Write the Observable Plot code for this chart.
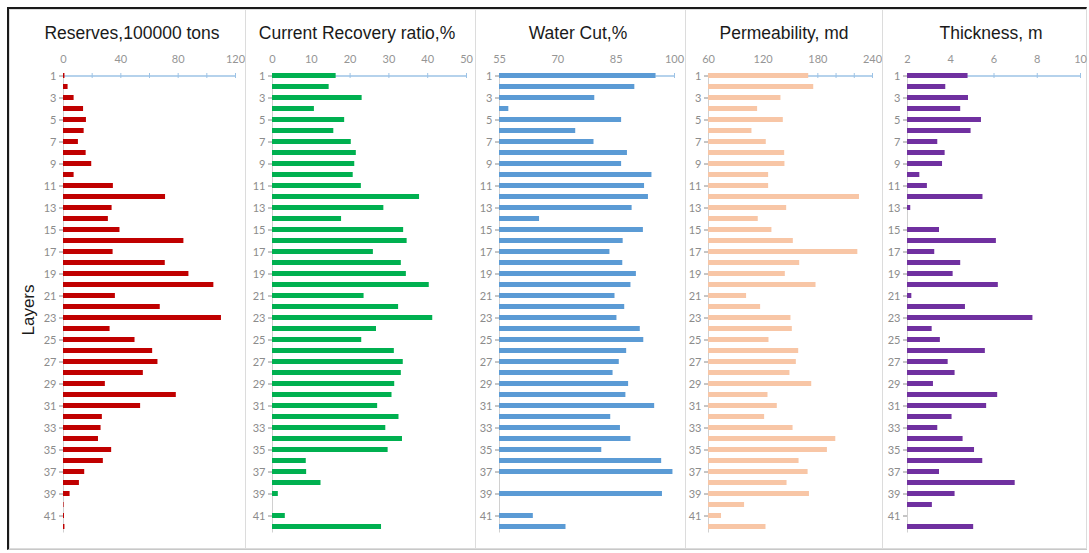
<!DOCTYPE html>
<html><head><meta charset="utf-8">
<script src="https://cdn.jsdelivr.net/npm/d3@7"></script>
<script src="https://cdn.jsdelivr.net/npm/@observablehq/plot@0.6"></script>
<style>
html,body{margin:0;padding:0;background:#fff;}
#wrap{position:relative;width:1089px;height:553px;overflow:hidden;background:#fff;font-family:"Liberation Sans",Arial,sans-serif;}
.outer{position:absolute;left:7px;top:7px;width:1080px;height:543px;box-sizing:border-box;border-top:2px solid #1a1a1a;border-left:2px solid #1a1a1a;border-right:1px solid #c8c8c8;border-bottom:1px solid #c8c8c8;}
.panel{position:absolute;top:9px;height:540px;border:1px solid #dcdcdc;box-sizing:border-box;}
.title{position:absolute;top:24px;line-height:18px;font-size:17.5px;color:#1a1a1a;white-space:nowrap;transform:translateX(-50%);}
.ylab{position:absolute;left:29px;top:310px;font-size:17px;color:#1a1a1a;white-space:nowrap;transform:translate(-50%,-50%) rotate(-90deg);}
#wrap svg{position:absolute;top:0;}
</style></head><body><div id="wrap"><div class="outer"></div></div>
<script>
const layers = [1,2,3,4,5,6,7,8,9,10,11,12,13,14,15,16,17,18,19,20,21,22,23,24,25,26,27,28,29,30,31,32,33,34,35,36,37,38,39,40,41,42];
const layerLabels = [1,3,5,7,9,11,13,15,17,19,21,23,25,27,29,31,33,35,37,39,41];

const reserves = [1, 3.2, 7.4, 14, 16, 14.4, 10.4, 15.8, 19.7, 7.4, 34.8, 71.2, 33.9, 31.3, 39.4, 84, 34.6, 71, 87.5, 104.9, 36.2, 67.5, 110.2, 32.5, 49.9, 62.2, 65.9, 55.7, 29.2, 78.7, 53.8, 27.1, 26.2, 24.4, 33.6, 27.8, 14.8, 11.1, 4.6, 0.4, 0.7, 1];
const recovery = [16.4, 14.6, 23.1, 10.8, 18.6, 15.8, 20.3, 21.6, 21.2, 20.8, 22.9, 37.9, 28.7, 17.8, 33.8, 34.7, 26, 33.2, 34.5, 40.4, 23.6, 32.5, 41.3, 26.8, 23, 31.4, 33.7, 33.2, 31.5, 30.8, 27.1, 32.6, 29.2, 33.5, 29.8, 8.7, 8.8, 12.5, 1.5, null, 3.3, 28.1];
const waterCut = [95.2, 89.8, 79.5, 57.4, 86.4, 74.6, 79.3, 87.9, 86.4, 94.2, 92.3, 93.3, 89.1, 65.3, 92, 86.8, 83.4, 86.7, 90.2, 88.8, 84.7, 87.2, 85.2, 91.2, 92.1, 87.7, 85.8, 84.2, 88.2, 87.5, 94.9, 83.6, 86.1, 88.8, 81.3, 96.7, 99.6, null, 96.9, null, 63.7, 72.1];
const permeability = [170, 175.5, 139.5, 113.9, 142.1, 107.7, 123.4, 143.6, 143.9, 126, 126, 225.7, 145.8, 114.6, 129.6, 153.1, 223.9, 160.1, 144.3, 178, 101.8, 117.2, 150.5, 152, 126.4, 159, 156.4, 149.4, 173.3, 125.3, 135.5, 121.6, 152.8, 199.7, 190.5, 159.4, 169.3, 146.2, 170.8, 99.6, 74.3, 123.1];
const thickness = [4.8, 3.77, 4.82, 4.46, 5.42, 4.94, 3.4, 3.74, 3.62, 2.57, 2.92, 5.49, 2.15, null, 3.48, 6.11, 3.26, 4.46, 4.11, 6.2, 2.2, 4.68, 7.8, 3.14, 3.52, 5.6, 3.88, 4.2, 3.2, 6.17, 5.66, 4.06, 3.4, 4.57, 5.1, 5.48, 3.48, 6.98, 4.2, 3.15, null, 5.06];

const reservesTicks = [0, 40, 80, 120];
const reservesMinor = [0, 20, 40, 60, 80, 100, 120];
const recoveryTicks = [0, 10, 20, 30, 40, 50];
const waterTicks = [55, 70, 85, 100];
const waterMinor = [55, 60, 65, 70, 75, 80, 85, 90, 95, 100];
const permTicks = [60, 120, 180, 240];
const permMinor = [60, 80, 100, 120, 140, 160, 180, 200, 220, 240];
const thickTicks = [2, 4, 6, 8, 10];

const titles = ["Reserves,100000 tons", "Current Recovery ratio,%", "Water Cut,%", "Permeability, md", "Thickness, m"];

const panels = [
  {title: titles[0], values: reserves, labels: reservesTicks, minor: reservesMinor, color: "#c00000", left: 9, right: 245, x0: 63, x1: 235, tx: 132},
  {title: titles[1], values: recovery, labels: recoveryTicks, minor: recoveryTicks, color: "#00b050", left: 245, right: 475, x0: 272, x1: 466, tx: 357},
  {title: titles[2], values: waterCut, labels: waterTicks, minor: waterMinor, color: "#5b9bd5", left: 475, right: 685, x0: 499, x1: 674, tx: 578},
  {title: titles[3], values: permeability, labels: permTicks, minor: permMinor, color: "#f8c6a6", left: 685, right: 882, x0: 708, x1: 872, tx: 784},
  {title: titles[4], values: thickness, labels: thickTicks, minor: thickTicks, color: "#7030a0", left: 882, right: 1086, x0: 907, x1: 1080, tx: 991}
];

const wrap = document.getElementById("wrap");
const rowTop = 75, rowBottom = 527;
const step = (rowBottom - rowTop) / (layers.length - 1);

const yl = document.createElement("div");
yl.className = "ylab"; yl.textContent = "Layers";
wrap.appendChild(yl);

for (const p of panels) {
  const box = document.createElement("div");
  box.className = "panel";
  box.style.left = p.left + "px";
  box.style.width = (p.right - p.left + 1) + "px";
  wrap.appendChild(box);

  const t = document.createElement("div");
  t.className = "title"; t.textContent = p.title;
  t.style.left = p.tx + "px";
  wrap.appendChild(t);

  const domain = [p.labels[0], p.labels[p.labels.length - 1]];
  const data = layers.map((l, i) => ({layer: l, value: p.values[i]})).filter(d => d.value != null);
  const w = p.right - p.left;
  const chart = Plot.plot({
    width: w,
    height: 553,
    marginLeft: p.x0 - p.left,
    marginRight: p.right - p.x1,
    marginTop: rowTop,
    marginBottom: 553 - (rowBottom + step / 2),
    x: {domain, axis: null},
    y: {domain: layers, range: [rowTop - step / 2, rowBottom + step / 2], paddingInner: 0.58, paddingOuter: 0.29, axis: null},
    style: {background: "transparent", fontFamily: "Lato, 'Liberation Sans', sans-serif", fontSize: "11px", overflow: "visible"},
    marks: [
      Plot.ruleX([domain[0]], {stroke: "#d0d0d0"}),
      Plot.ruleY([layers[0]], {x1: domain[0], x2: domain[1], stroke: "#9dc3e6", strokeWidth: 1.3}),
      Plot.tickX(p.minor, {x: d => d, y: () => layers[0], stroke: "#9dc3e6"}),
      Plot.barX(data, {x1: domain[0], x2: "value", y: "layer", fill: p.color}),
      Plot.text(p.labels, {x: d => d, y: () => layers[0], dy: -17, fill: "#959595", fontSize: 11}),
      Plot.axisY(layerLabels, {anchor: "left", tickSize: 4, tickPadding: 3, fontSize: 11, color: "#8c8c8c", label: null})
    ]
  });
  chart.style.left = p.left + "px";
  wrap.appendChild(chart);
}
</script></body></html>
